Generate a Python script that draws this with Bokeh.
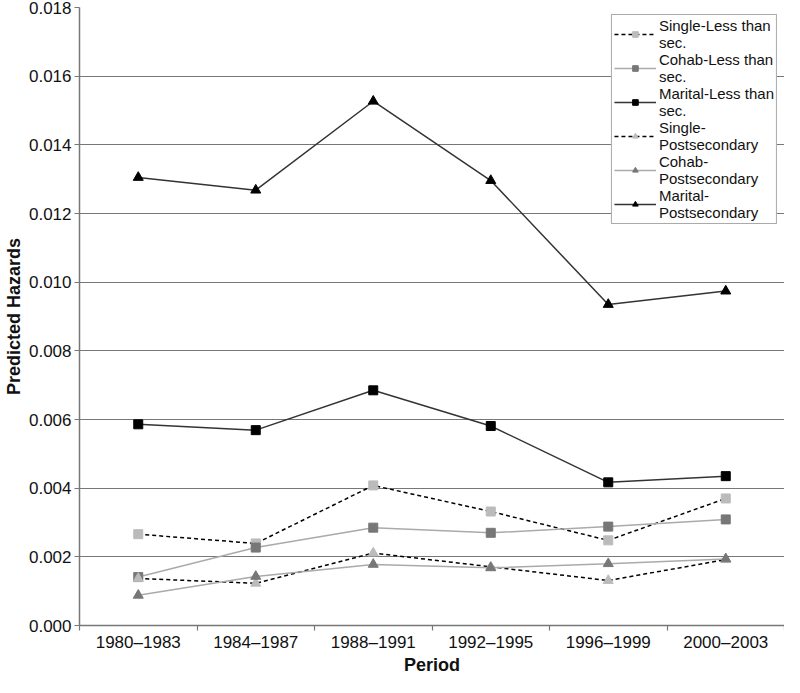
from bokeh.plotting import figure
from bokeh.models import FixedTicker, Legend, LegendItem, NumeralTickFormatter
from bokeh.embed import file_html
from bokeh.resources import INLINE

periods = ["1980\u20131983", "1984\u20131987", "1988\u20131991", "1992\u20131995", "1996\u20131999", "2000\u20132003"]
single_less = [0.00266, 0.00239, 0.00408, 0.00332, 0.00248, 0.00370]
cohab_less = [0.00141, 0.00227, 0.00285, 0.00270, 0.00288, 0.00309]
marital_less = [0.00586, 0.00569, 0.00685, 0.00581, 0.00417, 0.00435]
single_post = [0.00137, 0.00123, 0.00211, 0.00171, 0.00131, 0.00192]
cohab_post = [0.00088, 0.00143, 0.00178, 0.00168, 0.00180, 0.00194]
marital_post = [0.01305, 0.01268, 0.01527, 0.01296, 0.00935, 0.00974]
y_ticks = [0.000, 0.002, 0.004, 0.006, 0.008, 0.010, 0.012, 0.014, 0.016, 0.018]

xs = [i + 0.5 for i in range(len(periods))]
FONT = "Liberation Sans"

p = figure(width=784, height=677, output_backend="svg", toolbar_location=None,
           x_range=(0, len(periods)), y_range=(0, 0.018),
           min_border_left=10, min_border_right=0, min_border_top=7, min_border_bottom=0)
p.outline_line_color = None
p.background_fill_color = "white"
p.xgrid.grid_line_color = None
p.ygrid.grid_line_color = "#777777"
p.ygrid.grid_line_width = 1.2
p.ygrid.ticker = FixedTicker(ticks=y_ticks)

p.yaxis.ticker = FixedTicker(ticks=y_ticks)
p.yaxis.formatter = NumeralTickFormatter(format="0.000")
p.yaxis.axis_label = "Predicted Hazards"
p.xaxis.axis_label = "Period"
p.xaxis.ticker = FixedTicker(ticks=xs, minor_ticks=list(range(len(periods) + 1)))
p.xaxis.major_label_overrides = {x: lab for x, lab in zip(xs, periods)}
p.xaxis.major_tick_line_color = None
p.xaxis.major_tick_out = 5
p.xaxis.major_tick_in = 0
p.xaxis.minor_tick_in = 0
p.xaxis.minor_tick_out = 5
p.xaxis.minor_tick_line_color = "#777777"
p.xaxis.minor_tick_line_width = 1.2
p.yaxis.minor_tick_line_color = None
p.yaxis.major_tick_in = 0
p.yaxis.major_tick_out = 5
p.yaxis.major_tick_line_color = "#777777"
p.yaxis.major_tick_line_width = 1.2
for ax in (p.xaxis, p.yaxis):
    ax.axis_line_color = "#777777"
    ax.axis_line_width = 1.5
    ax.major_label_text_font = FONT
    ax.major_label_text_font_size = "17px"
    ax.major_label_text_color = "#111111"
    ax.axis_label_text_font = FONT
    ax.axis_label_text_font_size = "18px"
    ax.axis_label_text_font_style = "bold"
    ax.axis_label_text_color = "#111111"
p.xaxis.major_label_standoff = 2
p.xaxis.axis_label_standoff = 0
p.yaxis.major_label_standoff = 3
p.yaxis.axis_label_standoff = 2

series = [
    ("Single-Less than\nsec.", single_less, "black", "4 3", "square", "#bbbbbb"),
    ("Cohab-Less than\nsec.", cohab_less, "#aaaaaa", "solid", "square", "#777777"),
    ("Marital-Less than\nsec.", marital_less, "#333333", "solid", "square", "#000000"),
    ("Single-\nPostsecondary", single_post, "black", "4 3", "triangle", "#bbbbbb"),
    ("Cohab-\nPostsecondary", cohab_post, "#aaaaaa", "solid", "triangle", "#777777"),
    ("Marital-\nPostsecondary", marital_post, "#333333", "solid", "triangle", "#000000"),
]
items = []
for label, vals, lc, dash, marker, mc in series:
    ln = p.line(xs, vals, line_color=lc, line_width=1.5, line_dash=dash)
    sc = p.scatter(xs, vals, marker=marker, size=9 if marker == "square" else 10,
                   fill_color=mc, line_color=mc)
    items.append(LegendItem(label=label, renderers=[ln, sc]))

legend = Legend(items=items, location="top_right", margin=7)
legend.border_line_color = "#555555"
legend.border_line_width = 1.2
legend.background_fill_color = "white"
legend.background_fill_alpha = 1
legend.label_text_font = FONT
legend.label_text_font_size = "15px"
legend.label_text_color = "#111111"
legend.label_text_line_height = 0.8
legend.glyph_width = 42
legend.glyph_height = 14
legend.label_standoff = 3
legend.spacing = 0
legend.padding = 2
legend.label_height = 14
p.add_layout(legend)

open("out.html", "w").write(file_html(p, INLINE))
